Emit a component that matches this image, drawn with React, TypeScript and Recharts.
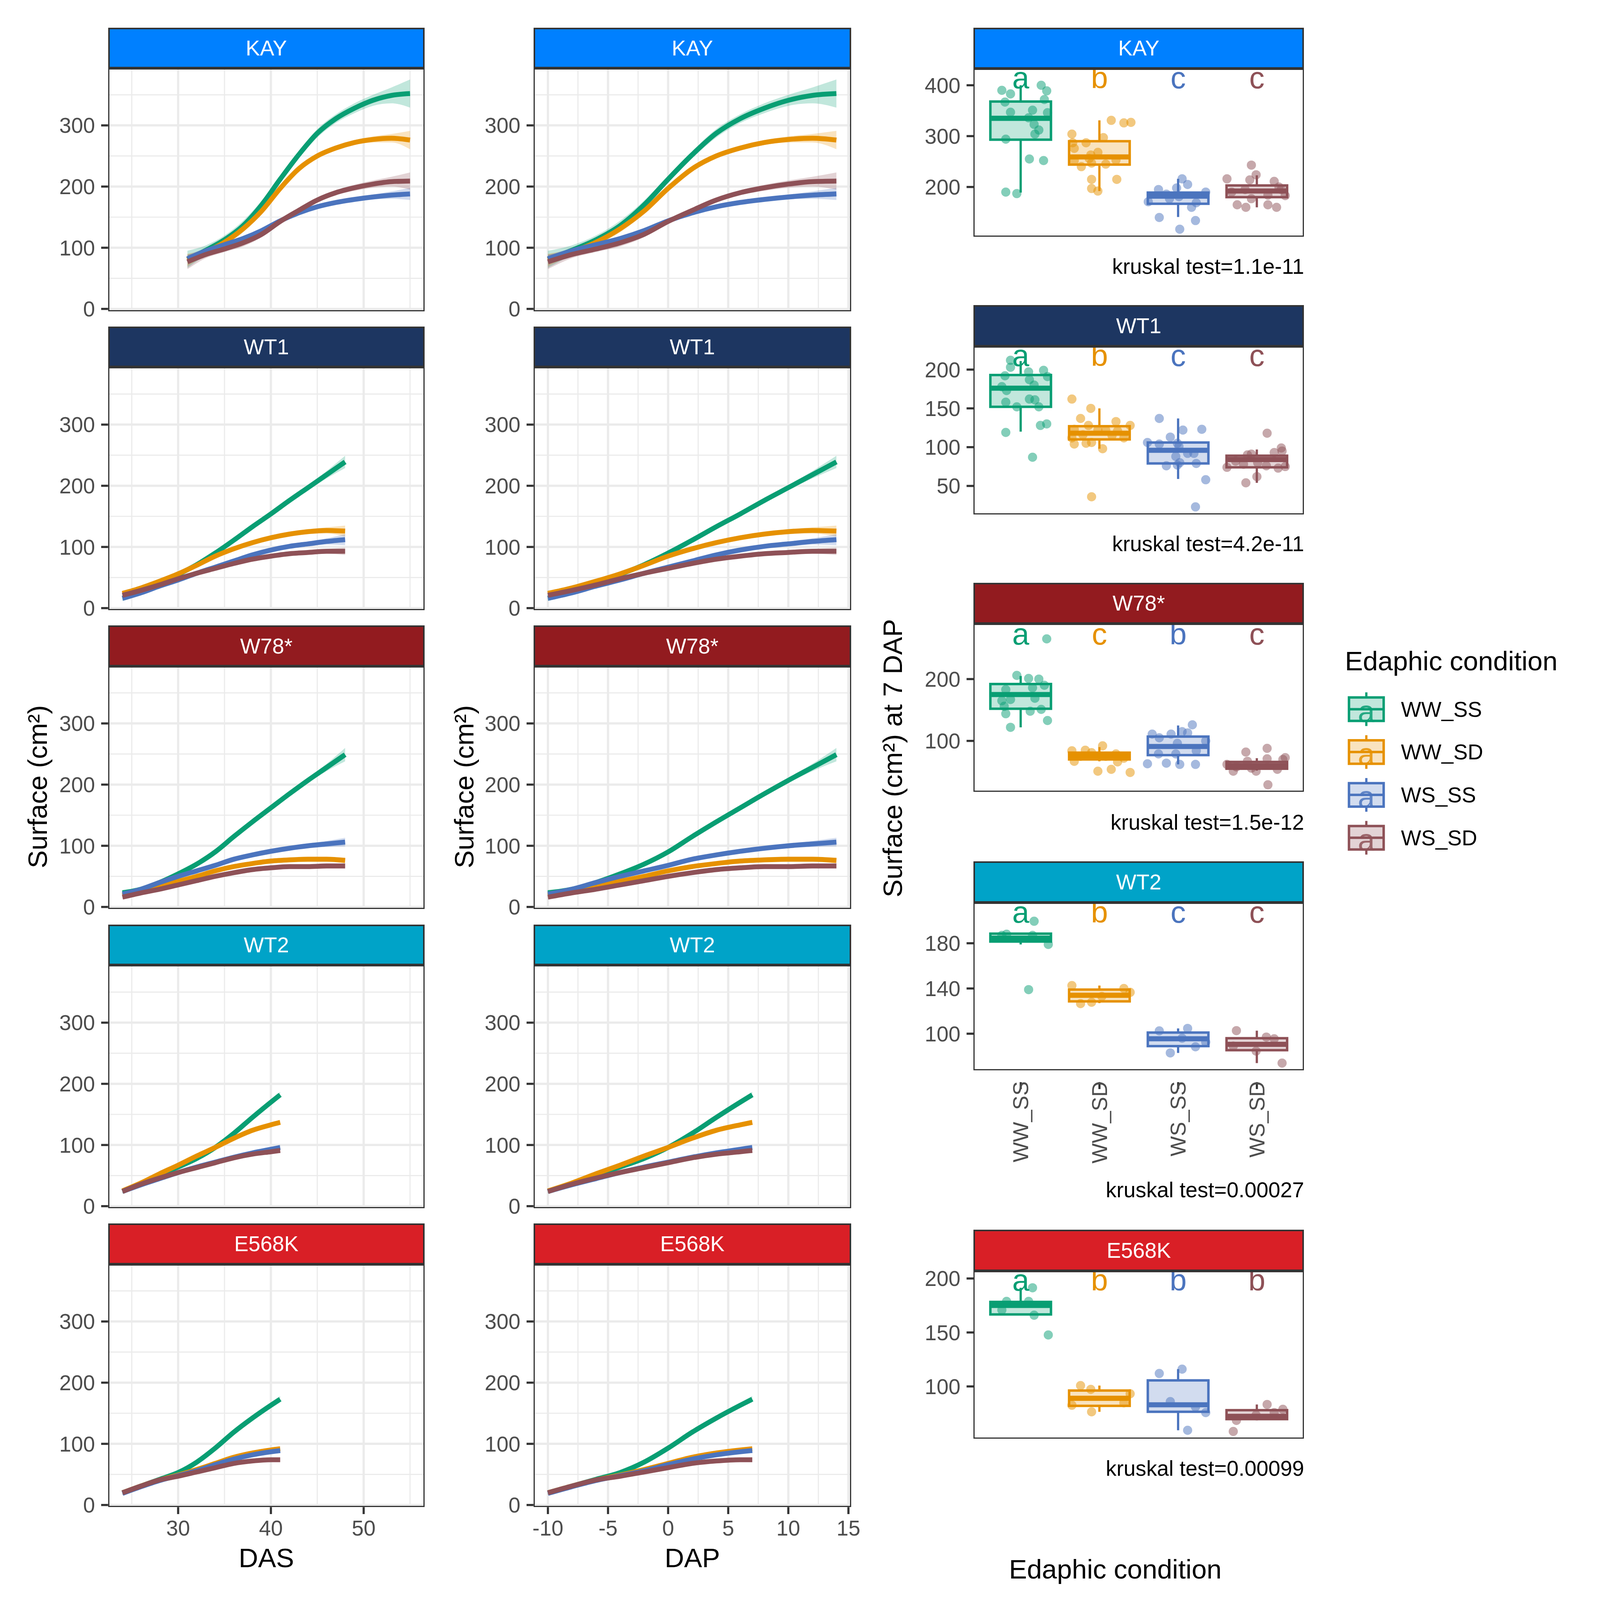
import React from "react";
import {
  ComposedChart, Line, Area, Bar, Scatter, XAxis, YAxis, CartesianGrid,
} from "recharts";

// reference laid out on a 1568 grid, scaled to the page width
const VIEW = typeof window !== "undefined" && window.innerWidth > 0 ? window.innerWidth : 7200;
const S = VIEW / 1568;
const p = (v: number) => v * S;

const FONT = '"Liberation Sans", Arial, Helvetica, sans-serif';
const F_SMALL = p(21);
const F_TITLE = p(26.4);
const F_LETTER = p(30);
const INK = "#4D4D4D";
const DARK = "#333333";
const GRID = "#EBEBEB";

const CONDITIONS = ["WW_SS", "WW_SD", "WS_SS", "WS_SD"];
const COND_COLORS = ["#089E73", "#E69100", "#4B74BE", "#8E5157"];

const GENOS = ["KAY", "WT1", "W78*", "WT2", "E568K"];
const STRIP_COLORS = ["#0080FF", "#1D3661", "#921B1F", "#00A3C8", "#D91F26"];

// ---- growth curves (DAP), DAS = DAP + offset
const DAS_OFFSET = [41, 34, 34, 34, 34];
const DAS_TICKS = [30, 40, 50];
const DAS_MINOR = [25, 35, 45, 55];
const DAP_TICKS = [-10, -5, 0, 5, 10, 15];
const DAP_MINOR = [-7.5, -2.5, 2.5, 7.5, 12.5];
const Y_TICKS = [0, 100, 200, 300];
const Y_MINOR = [50, 150, 250, 350];

const KAY_DAP = [-10, -8, -6, -4, -2, 0, 2, 4, 6, 8, 10, 12, 14];
const KAY_MEAN = [
  [81, 96, 113, 136, 170, 212, 252, 287, 311, 328, 341, 349, 352],
  [80, 93, 109, 131, 160, 197, 229, 250, 263, 272, 277, 279, 276],
  [82, 95, 105, 115, 128, 144, 157, 167, 174, 179, 183, 186, 188],
  [77, 89, 98, 108, 122, 143, 161, 178, 190, 198, 204, 208, 209],
];
const KAY_SE = [
  [14, 8, 7, 8, 7, 6, 6, 7, 7, 8, 9, 13, 23],
  [10, 5, 4, 6, 4, 4, 4, 4, 4, 4, 5, 7, 15],
  [6, 4, 4, 4, 3, 3, 3, 3, 3, 3, 4, 6, 10],
  [12, 6, 5, 6, 5, 4, 4, 4, 4, 5, 6, 8, 14],
];

const WT1_DAP = [-10, -8, -6, -4, -2, 0, 2, 4, 6, 8, 10, 12, 14];
const WT1_MEAN = [
  [16, 26, 40, 55, 71, 90, 111, 133, 154, 176, 197, 218, 239],
  [24, 33, 44, 56, 70, 85, 97, 107, 115, 121, 125, 127, 126],
  [16, 25, 36, 46, 57, 67, 77, 87, 95, 101, 105, 109, 112],
  [21, 29, 38, 48, 57, 65, 73, 80, 85, 89, 91, 93, 93],
];
const WT1_SE = [
  [4, 3, 3, 3, 3, 3, 3, 3, 3, 3, 4, 6, 10],
  [5, 3, 3, 3, 3, 3, 3, 3, 3, 3, 4, 5, 9],
  [4, 2, 2, 2, 2, 2, 2, 2, 3, 3, 4, 5, 9],
  [3, 2, 2, 2, 2, 2, 2, 2, 2, 2, 3, 4, 6],
];

const W78_DAP = [-10, -8, -6, -4, -2, 0, 2, 4, 6, 8, 10, 12, 14];
const W78_MEAN = [
  [23, 29, 40, 54, 70, 90, 115, 139, 162, 185, 207, 228, 249],
  [19, 27, 35, 42, 50, 59, 66, 71, 75, 77, 78, 78, 76],
  [21, 29, 40, 50, 59, 68, 78, 85, 91, 96, 100, 103, 106],
  [16, 23, 29, 36, 43, 50, 56, 61, 64, 66, 66, 67, 67],
];
const W78_SE = [
  [5, 3, 3, 3, 3, 3, 3, 3, 3, 3, 4, 6, 11],
  [3, 2, 2, 2, 2, 2, 2, 2, 2, 2, 3, 3, 5],
  [3, 2, 2, 2, 2, 2, 2, 2, 2, 3, 4, 5, 7],
  [3, 2, 2, 2, 2, 2, 2, 2, 2, 2, 2, 3, 4],
];

const WT2_DAP = [-10, -8, -6, -4, -2, 0, 2, 4, 6, 7];
const WT2_MEAN = [
  [24, 37, 51, 64, 78, 96, 119, 145, 170, 182],
  [25, 38, 53, 67, 82, 96, 111, 124, 133, 137],
  [24, 35, 45, 55, 64, 72, 80, 87, 93, 96],
  [24, 36, 46, 55, 63, 71, 79, 85, 89, 91],
];
const WT2_SE = [
  [3, 2, 2, 2, 2, 2, 2, 3, 4, 5],
  [3, 2, 2, 2, 2, 2, 2, 3, 3, 4],
  [3, 2, 2, 2, 2, 2, 2, 2, 3, 4],
  [3, 2, 2, 2, 2, 2, 2, 2, 3, 4],
];

const E568K_DAP = [-10, -8, -6, -4, -2, 0, 2, 4, 6, 7];
const E568K_MEAN = [
  [20, 31, 42, 53, 70, 93, 119, 142, 163, 173],
  [20, 31, 41, 49, 58, 68, 78, 85, 90, 92],
  [19, 30, 40, 48, 56, 66, 75, 82, 87, 89],
  [20, 31, 41, 47, 54, 61, 68, 72, 74, 74],
];
const E568K_SE = [
  [3, 2, 2, 2, 2, 2, 2, 3, 4, 5],
  [3, 2, 2, 2, 2, 2, 2, 2, 3, 4],
  [3, 2, 2, 2, 2, 2, 2, 2, 3, 4],
  [3, 2, 2, 2, 2, 2, 2, 2, 2, 3],
];

const CURVES = [
  { dap: KAY_DAP, mean: KAY_MEAN, se: KAY_SE },
  { dap: WT1_DAP, mean: WT1_MEAN, se: WT1_SE },
  { dap: W78_DAP, mean: W78_MEAN, se: W78_SE },
  { dap: WT2_DAP, mean: WT2_MEAN, se: WT2_SE },
  { dap: E568K_DAP, mean: E568K_MEAN, se: E568K_SE },
];

// ---- surface at 7 DAP: [lo whisker, q1, median, q3, hi whisker]
const BOX_STATS = [
  [[189, 293, 335, 368, 400], [192, 244, 259, 290, 331], [141, 167, 182, 189, 216], [160, 180, 192, 203, 223]],
  [[120, 152, 176, 193, 211], [98, 110, 118, 127, 150], [59, 79, 96, 106, 137], [54, 74, 84, 89, 97]],
  [[122, 152, 175, 192, 205], [67, 70, 76, 81, 90], [62, 77, 91, 107, 125], [52, 55, 60, 66, 72]],
  [[179, 181.5, 184.5, 188.5, 188.5], [127, 128.6, 134, 139, 142.6], [83, 89, 95.5, 101, 104.7], [74, 85.4, 90.6, 96, 102.7]],
  [[166, 166.7, 175, 178.3, 191.4], [76.5, 82, 89, 96.2, 100.8], [59.4, 76.5, 83, 105.6, 116], [68.5, 69.7, 72.3, 78, 83.3]],
];

// jittered plants: [x position, surface]
const KAY_PTS = [
  [[0.76, 390], [0.87, 383], [1.26, 400], [1.33, 389], [0.8, 367], [1.3, 372], [0.87, 347], [1.15, 351], [1.34, 346], [1.1, 336], [1.17, 323], [1.23, 312], [1.18, 304], [0.81, 294], [1.11, 255], [1.29, 252], [0.81, 190], [0.95, 187]],
  [[2.15, 331], [2.31, 326], [2.4, 327], [1.65, 304], [2.05, 297], [1.83, 287], [1.66, 287], [1.68, 276], [1.98, 268], [1.89, 263], [1.87, 256], [2.21, 253], [1.68, 252], [1.9, 247], [2.08, 245], [1.77, 240], [1.9, 215], [2.22, 215], [1.9, 197], [1.98, 192]],
  [[3.05, 216], [3.12, 205], [2.75, 195], [2.98, 198], [2.85, 186], [3.35, 190], [2.89, 177], [3.01, 181], [2.62, 171], [3.23, 169], [3.17, 160], [2.76, 140], [3.22, 134], [3.02, 117]],
  [[3.93, 243], [3.99, 224], [3.62, 216], [3.91, 214], [4.22, 211], [4.28, 200], [3.85, 195], [3.68, 190], [4.14, 184], [4.36, 183], [3.93, 177], [3.75, 165], [3.86, 160], [4.14, 165], [4.25, 160], [4.31, 195]],
];
const WT1_PTS = [
  [[0.87, 212], [0.87, 203], [0.8, 192], [1.1, 197], [1.29, 199], [1.34, 191], [1.11, 187], [0.76, 178], [1.17, 180], [0.82, 173], [1.11, 162], [1.18, 161], [0.81, 158], [0.95, 152], [1.23, 152], [1.25, 128], [1.33, 130], [0.81, 119], [1.15, 87]],
  [[1.65, 162], [1.89, 150], [1.76, 137], [2.21, 133], [2.39, 128], [1.86, 128], [1.68, 123], [1.98, 122], [2.08, 122], [2.23, 121], [1.65, 112], [1.79, 116], [2.16, 115], [2.31, 112], [1.68, 104], [1.83, 105], [1.9, 106], [2.04, 98], [1.9, 36]],
  [[2.76, 137], [3.06, 122], [3.3, 123], [2.9, 113], [2.61, 106], [2.76, 104], [2.99, 105], [3.01, 101], [3.12, 92], [3.2, 92], [2.97, 88], [3.02, 80], [2.85, 76], [2.99, 77], [3.23, 79], [3.35, 58], [3.22, 23]],
  [[4.13, 118], [4.31, 99], [4.32, 95], [4.22, 93], [3.88, 90], [3.93, 91], [3.73, 82], [4.01, 80], [3.83, 78], [4.12, 76], [3.62, 74], [4.27, 73], [4.36, 75], [4.0, 62], [3.86, 54]],
];
const W78_PTS = [
  [[0.95, 206], [1.1, 201], [1.23, 200], [1.3, 190], [1.15, 186], [0.81, 183], [0.87, 167], [1.18, 169], [0.76, 165], [0.79, 156], [1.26, 151], [1.12, 148], [0.81, 144], [1.34, 133], [0.87, 122], [1.33, 265]],
  [[2.04, 92], [1.65, 84], [1.82, 85], [1.9, 81], [2.21, 79], [2.31, 72], [1.68, 67], [2.23, 66], [1.98, 51], [2.15, 54], [2.39, 49], [1.76, 75], [2.08, 75]],
  [[3.18, 126], [2.67, 111], [2.91, 111], [3.05, 115], [3.12, 113], [2.76, 105], [3.35, 100], [2.99, 96], [3.23, 84], [2.75, 79], [2.97, 79], [2.61, 63], [2.85, 64], [3.02, 62], [3.22, 62]],
  [[4.13, 88], [3.86, 82], [4.36, 73], [4.13, 71], [4.33, 70], [3.88, 67], [3.62, 62], [3.74, 58], [3.93, 56], [3.99, 51], [4.26, 54], [3.7, 51], [4.14, 29]],
];
const WT2_PTS = [
  [[1.17, 199.5], [0.76, 187], [0.82, 188], [1.15, 187], [1.35, 179], [1.1, 139]],
  [[1.65, 142.6], [2.31, 140], [2.39, 136.6], [1.76, 126.6], [1.9, 127.8], [2.03, 133]],
  [[2.76, 102.5], [3.12, 104.7], [3.05, 96], [3.35, 92.6], [3.22, 88.4], [2.9, 83]],
  [[3.74, 102.7], [4.12, 97], [4.22, 95.5], [3.7, 89], [3.99, 84.6], [4.32, 74]],
];
const E568K_PTS = [
  [[1.15, 191.4], [0.82, 178.8], [1.1, 178.8], [0.76, 170.8], [1.17, 166], [1.35, 147.7]],
  [[1.76, 100.8], [1.89, 97.3], [2.39, 93.2], [1.65, 82.6], [2.31, 84.8], [1.9, 76.5]],
  [[3.05, 116], [2.76, 112], [2.9, 86], [3.22, 81], [3.35, 75.8], [3.12, 59.4]],
  [[4.13, 83.3], [4.33, 78.8], [4.22, 75.8], [3.99, 73.5], [3.74, 68.5], [3.7, 58.3]],
];
const BOX_POINTS = [KAY_PTS, WT1_PTS, W78_PTS, WT2_PTS, E568K_PTS];

const BOX_DOMAINS = [[102, 432], [13.6, 230], [17.5, 289], [67.5, 216], [51.5, 207]];
const BOX_TICKS = [[200, 300, 400], [50, 100, 150, 200], [100, 200], [100, 140, 180], [100, 150, 200]];
const LETTER_Y = [415, 218, 273, 207.5, 198.5];
const LETTERS = [["a", "b", "c", "c"], ["a", "b", "c", "c"], ["a", "c", "b", "c"], ["a", "b", "c", "c"], ["a", "b", "b", "b"]];
const KRUSKAL = ["1.1e-11", "4.2e-11", "1.5e-12", "0.00027", "0.00099"];

// ---- layout (1568 grid)
const ROW_TOPS = [27, 320, 613, 906, 1199];
const STRIP_H = 40;
const PANEL_H = 238;
const COLS = [{ left: 106, width: 310, das: true }, { left: 523, width: 311, das: false }];
const Y_AXIS_W = 60;
const PAD = 14; // room round a panel so edge tick labels are not clipped
const BOX_LEFT = 954;
const BOX_W = 324;
const BOX_TOPS = [27, 299, 571, 844, 1205];
const BOX_STRIP_H = 40.5;
const BOX_PANEL_H = 164.5;
const CAPTION_Y = [261, 533, 806, 1166, 1439];

const tickStyle = { fontSize: F_SMALL, fill: INK, fontFamily: FONT };
const tickLineStyle = { stroke: DARK, strokeWidth: p(2.1) };

function Strip({ left, top, width, height, label, color }: any) {
  return (
    <div style={{
      position: "absolute", left: p(left), top: p(top), width: p(width), height: p(height),
      background: color, border: `${p(1.7)}px solid ${DARK}`, boxSizing: "border-box",
      color: "white", fontSize: F_SMALL, fontFamily: FONT,
      display: "flex", alignItems: "center", justifyContent: "center",
    }}>{label}</div>
  );
}

function Border({ left, top, width, height }: any) {
  return (
    <div style={{
      position: "absolute", left: p(left), top: p(top), width: p(width), height: p(height),
      border: `${p(1.3)}px solid ${DARK}`, boxSizing: "border-box", pointerEvents: "none",
    }} />
  );
}

function LinePanel({ g, col }: { g: number; col: typeof COLS[number] }) {
  const curve = CURVES[g];
  const bottom = g === GENOS.length - 1;
  const axisH = bottom ? 40 : 0;
  const rows = curve.dap.map((d, i) => {
    const r: any = { x: col.das ? d + DAS_OFFSET[g] : d };
    CONDITIONS.forEach((c, k) => {
      const m = curve.mean[k][i];
      const e = curve.se[k][i];
      r[c] = m;
      r[c + "_band"] = [m - e, m + e];
    });
    return r;
  });
  const top = ROW_TOPS[g] + STRIP_H;
  return (
    <div style={{ position: "absolute", left: p(col.left - Y_AXIS_W), top: p(top - PAD) }}>
      <ComposedChart width={p(col.width + Y_AXIS_W + PAD)} height={p(PANEL_H + axisH + 2 * PAD)} data={rows}
        margin={{ top: p(PAD), right: p(PAD), bottom: p(PAD), left: 0 }}>
        <CartesianGrid horizontalValues={Y_MINOR} verticalValues={col.das ? DAS_MINOR : DAP_MINOR}
          stroke={GRID} strokeWidth={p(1.1)} />
        <CartesianGrid horizontalValues={Y_TICKS} verticalValues={col.das ? DAS_TICKS : DAP_TICKS}
          stroke={GRID} strokeWidth={p(2.2)} />
        <XAxis type="number" dataKey="x" domain={col.das ? [22.45, 56.55] : [-11.2, 15.2]} allowDataOverflow
          ticks={col.das ? DAS_TICKS : DAP_TICKS} interval={0} hide={!bottom} height={p(axisH || 1)}
          tick={tickStyle} tickSize={p(6.8)} tickMargin={p(6)} tickLine={tickLineStyle} axisLine={false} />
        <YAxis type="number" domain={[-3.5, 393.5]} allowDataOverflow ticks={Y_TICKS} interval={0}
          width={p(Y_AXIS_W)} tick={tickStyle} tickSize={p(6.8)} tickMargin={p(6)} tickLine={tickLineStyle}
          axisLine={false} />
        {CONDITIONS.map((c, k) => (
          <Area key={c + "b"} dataKey={c + "_band"} type="monotone" stroke="none" fill={COND_COLORS[k]}
            fillOpacity={0.25} dot={false} activeDot={false} isAnimationActive={false} />
        ))}
        {CONDITIONS.map((c, k) => (
          <Line key={c} dataKey={c} type="monotone" stroke={COND_COLORS[k]} strokeWidth={p(4.8)}
            dot={false} activeDot={false} isAnimationActive={false} />
        ))}
      </ComposedChart>
    </div>
  );
}

const BoxShape = (props: any) => {
  const { x, y, width, height, payload } = props;
  const { lo, q1, med, q3, hi, k } = payload;
  const top = Math.min(y, y + height);
  const h = Math.abs(height);
  const toY = (v: number) => top + ((hi - v) / (hi - lo)) * h;
  const cx = x + width / 2;
  const color = COND_COLORS[k];
  return (
    <g>
      <line x1={cx} x2={cx} y1={toY(hi)} y2={toY(q3)} stroke={color} strokeWidth={p(2.2)} />
      <line x1={cx} x2={cx} y1={toY(q1)} y2={toY(lo)} stroke={color} strokeWidth={p(2.2)} />
      <rect x={x} y={toY(q3)} width={width} height={toY(q1) - toY(q3)} fill={color} fillOpacity={0.25}
        stroke={color} strokeWidth={p(2.4)} />
      <line x1={x} x2={x + width} y1={toY(med)} y2={toY(med)} stroke={color} strokeWidth={p(5)} />
    </g>
  );
};

const RotatedTick = (props: any) => {
  const { x, y, payload } = props;
  const y0 = y - p(10);
  return (
    <text x={x} y={y0} transform={`rotate(-90 ${x} ${y0})`} textAnchor="end" dominantBaseline="central"
      fontSize={F_SMALL} fill={INK} fontFamily={FONT}>{CONDITIONS[payload.value - 1]}</text>
  );
};

function BoxPanel({ g }: { g: number }) {
  const withLabels = g === 3;
  const axisH = withLabels ? 95 : 8;
  const plotW = p(BOX_W);
  const stats = BOX_STATS[g].map((s, k) => ({
    cond: CONDITIONS[k], lo: s[0], q1: s[1], med: s[2], q3: s[3], hi: s[4], k,
  }));
  const letters = LETTERS[g].map((t, k) => ({ x: k + 1, y: LETTER_Y[g], t, k }));
  const top = BOX_TOPS[g] + BOX_STRIP_H;
  return (
    <div style={{ position: "absolute", left: p(BOX_LEFT - 64), top: p(top - PAD) }}>
      <ComposedChart width={p(BOX_W + 64)} height={p(BOX_PANEL_H + axisH + 2 * PAD)} data={stats}
        margin={{ top: p(PAD), right: 0, bottom: p(PAD), left: 0 }}>
        <XAxis xAxisId="cat" type="category" dataKey="cond" hide padding={{ left: plotW / 42, right: plotW / 42 }} />
        <XAxis xAxisId="num" type="number" dataKey="x" domain={[0.4, 4.6]} allowDataOverflow ticks={[1, 2, 3, 4]}
          interval={0} height={p(axisH)} tickSize={p(6.8)} tickMargin={p(2.4)} tickLine={tickLineStyle}
          axisLine={false} tick={withLabels ? <RotatedTick /> : false} />
        <YAxis type="number" dataKey="y" domain={BOX_DOMAINS[g]} allowDataOverflow ticks={BOX_TICKS[g]}
          interval={0} width={p(64)} tick={tickStyle} tickSize={p(6.8)} tickMargin={p(6)}
          tickLine={tickLineStyle} axisLine={false} />
        <Bar xAxisId="cat" dataKey={(d: any) => [d.lo, d.hi]} barSize={p(59.4)} shape={BoxShape}
          isAnimationActive={false} />
        {CONDITIONS.map((c, k) => (
          <Scatter key={c} xAxisId="num" data={BOX_POINTS[g][k].map(([x, y]) => ({ x, y }))}
            isAnimationActive={false}
            shape={(s: any) => <circle cx={s.cx} cy={s.cy} r={p(4.5)} fill={COND_COLORS[k]} fillOpacity={0.5} />} />
        ))}
        <Scatter xAxisId="num" data={letters} isAnimationActive={false}
          shape={(s: any) => (
            <text x={s.cx} y={s.cy} textAnchor="middle" dominantBaseline="central" fontSize={F_LETTER}
              fontFamily={FONT} fill={COND_COLORS[s.payload.k]}>{s.payload.t}</text>
          )} />
      </ComposedChart>
    </div>
  );
}

export default function App() {
  return (
    <div style={{
      position: "absolute", left: 0, top: 0, width: p(1568), height: p(1568),
      background: "white", overflow: "hidden", fontFamily: FONT,
    }}>
      {GENOS.map((name, g) => COLS.map((col, c) => (
        <LinePanel key={name + c} g={g} col={col} />
      )))}
      {GENOS.map((name, g) => <BoxPanel key={name + "box"} g={g} />)}

      {GENOS.map((name, g) => COLS.map((col, c) => (
        <React.Fragment key={name + "deco" + c}>
          <Strip left={col.left} top={ROW_TOPS[g]} width={col.width} height={STRIP_H} label={name}
            color={STRIP_COLORS[g]} />
          <Border left={col.left} top={ROW_TOPS[g] + STRIP_H} width={col.width} height={PANEL_H} />
        </React.Fragment>
      )))}
      {GENOS.map((name, g) => (
        <React.Fragment key={name + "boxdeco"}>
          <Strip left={BOX_LEFT} top={BOX_TOPS[g]} width={BOX_W} height={BOX_STRIP_H} label={name}
            color={STRIP_COLORS[g]} />
          <Border left={BOX_LEFT} top={BOX_TOPS[g] + BOX_STRIP_H} width={BOX_W} height={BOX_PANEL_H} />
        </React.Fragment>
      ))}

      <svg width={p(1568)} height={p(1568)} style={{ position: "absolute", left: 0, top: 0, pointerEvents: "none" }}
        fontFamily={FONT}>
        {[37, 455].map((x) => (
          <text key={x} x={p(x)} y={p(771)} transform={`rotate(-90 ${p(x)} ${p(771)})`} textAnchor="middle"
            dominantBaseline="central" fontSize={F_TITLE} fill="black">Surface (cm²)</text>
        ))}
        <text x={p(875)} y={p(743)} transform={`rotate(-90 ${p(875)} ${p(743)})`} textAnchor="middle"
          dominantBaseline="central" fontSize={F_TITLE} fill="black">Surface (cm²) at 7 DAP</text>
        <text x={p(261)} y={p(1527)} textAnchor="middle" dominantBaseline="central" fontSize={F_TITLE}>DAS</text>
        <text x={p(678.5)} y={p(1527)} textAnchor="middle" dominantBaseline="central" fontSize={F_TITLE}>DAP</text>
        <text x={p(1093)} y={p(1538)} textAnchor="middle" dominantBaseline="central" fontSize={F_TITLE}>
          Edaphic condition
        </text>
        {KRUSKAL.map((k, g) => (
          <text key={k} x={p(1278)} y={p(CAPTION_Y[g])} textAnchor="end" dominantBaseline="central"
            fontSize={F_SMALL} fill="black">kruskal test={k}</text>
        ))}
        <text x={p(1318)} y={p(648)} dominantBaseline="central" fontSize={F_TITLE}>Edaphic condition</text>
        {CONDITIONS.map((c, k) => {
          const cy = p(695 + 42 * k);
          const x0 = p(1322);
          const w = p(34);
          const color = COND_COLORS[k];
          return (
            <g key={c}>
              <line x1={x0 + w / 2} x2={x0 + w / 2} y1={cy - p(16.5)} y2={cy + p(16.5)} stroke={color} strokeWidth={p(2.2)} />
              <rect x={x0} y={cy - p(11.5)} width={w} height={p(23)} fill="white" />
              <rect x={x0} y={cy - p(11.5)} width={w} height={p(23)} fill={color} fillOpacity={0.25}
                stroke={color} strokeWidth={p(2.4)} />
              <line x1={x0} x2={x0 + w} y1={cy} y2={cy} stroke={color} strokeWidth={p(2.4)} />
              <text x={x0 + w / 2} y={cy + p(2)} textAnchor="middle" dominantBaseline="central"
                fontSize={F_LETTER} fill={color} fillOpacity={0.85}>a</text>
              <text x={p(1373)} y={cy} dominantBaseline="central" fontSize={F_SMALL} fill="black">{c}</text>
            </g>
          );
        })}
      </svg>
    </div>
  );
}
